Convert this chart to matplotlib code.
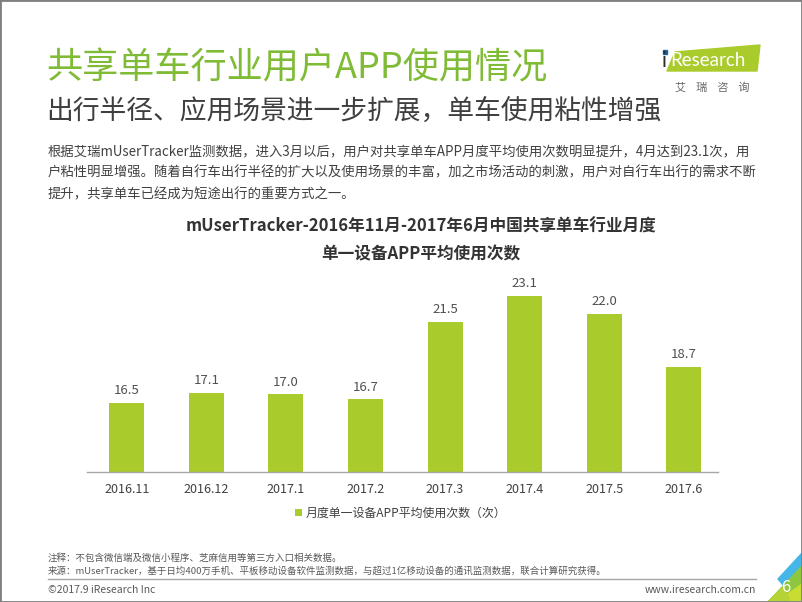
import matplotlib.pyplot as plt
from matplotlib.patches import Polygon, Rectangle

plt.rcParams['font.family'] = ['Noto Sans CJK SC', 'DejaVu Sans']

# =====================================================
# DATA
# =====================================================

months = ['2016.11', '2016.12', '2017.1', '2017.2',
          '2017.3', '2017.4', '2017.5', '2017.6']
usage = [16.5, 17.1, 17.0, 16.7, 21.5, 23.1, 22.0, 18.7]

series_name = '月度单一设备APP平均使用次数（次）'

title = '共享单车行业用户APP使用情况'
subtitle = '出行半径、应用场景进一步扩展，单车使用粘性增强'
body = [
    '根据艾瑞mUserTracker监测数据，进入3月以后，用户对共享单车APP月度平均使用次数明显提升，4月达到23.1次，用',
    '户粘性明显增强。随着自行车出行半径的扩大以及使用场景的丰富，加之市场活动的刺激，用户对自行车出行的需求不断',
    '提升，共享单车已经成为短途出行的重要方式之一。',
]
chart_title = ['mUserTracker-2016年11月-2017年6月中国共享单车行业月度',
               '单一设备APP平均使用次数']
notes = ['注释：不包含微信端及微信小程序、芝麻信用等第三方入口相关数据。',
         '来源：mUserTracker，基于日均400万手机、平板移动设备软件监测数据，与超过1亿移动设备的通讯监测数据，联合计算研究获得。']

BAR_GREEN = '#a9cb2c'
TITLE_GREEN = '#7fbb35'
W, H = 802, 602


def px(x, y):
    return x / W, 1 - y / H


def poly(points, color):
    fig.patches.append(Polygon([px(*p) for p in points], closed=True,
                               transform=fig.transFigure, color=color))


fig = plt.figure(figsize=(8.02, 6.02), dpi=100)

# =====================================================
# HEADER TEXT
# =====================================================

fig.text(*px(46, 68), title, fontsize=26, color=TITLE_GREEN, va='center')
fig.text(*px(46, 111), subtitle, fontsize=19.3, color='#3f3f3f', va='center')
for i, line in enumerate(body):
    fig.text(*px(48, 151 + i * 21.5), line, fontsize=9.6,
             color='#404040', va='center')

for i, line in enumerate(chart_title):
    fig.text(*px(421, 227 + i * 27), line, fontsize=12,
             color='#333333', fontweight='bold', ha='center', va='center')

# logo
poly([(675, 52), (760, 45), (757, 71), (667, 71)], BAR_GREEN)
fig.text(*px(662, 61), 'i', fontsize=15, color='#2d2d2d', va='center',
         family='Lato')
fig.text(*px(670, 61), 'Research', fontsize=13.5, color='white',
         va='center', family='Lato')
fig.patches.append(Rectangle(px(663, 54), 4 / W, 4 / H,
                             transform=fig.transFigure, color='#1f5fa8'))
fig.text(*px(712, 87), '艾    瑞    咨    询', fontsize=8,
         color='#666666', ha='center', va='center')

# =====================================================
# BAR CHART
# =====================================================

ax = fig.add_axes([87 / W, 1 - 472 / H, (718 - 87) / W, (472 - 270) / H])

x = range(len(months))
bars = ax.bar(x, usage, width=0.44, color=BAR_GREEN, zorder=2)

for b, v in zip(bars, usage):
    ax.text(b.get_x() + b.get_width() / 2, v + 0.35, f'{v:.1f}',
            ha='center', va='bottom', fontsize=9.5, color='#505050')

ax.set_ylim(12.2, 24.7)
ax.set_xlim(-0.5, 7.43)
ax.set_xticks(list(x))
ax.set_xticklabels(months, fontsize=9, color='#404040')
ax.tick_params(axis='x', length=0, pad=8)
ax.set_yticks([])
for side in ['top', 'right', 'left']:
    ax.spines[side].set_visible(False)
ax.spines['bottom'].set_color('#a6a6a6')
ax.spines['bottom'].set_linewidth(1)

leg = ax.legend([bars[0]], [series_name], loc='center',
                bbox_to_anchor=(0.497, -0.205), frameon=False,
                fontsize=8.6, handlelength=0.6, handleheight=0.6,
                handletextpad=0.3)
for t in leg.get_texts():
    t.set_color('#404040')

# =====================================================
# FOOTER
# =====================================================

for i, line in enumerate(notes):
    fig.text(*px(48, 558 + i * 13), line, fontsize=6.8,
             color='#595959', va='center')

fig.add_artist(plt.Line2D([48 / W, 756 / W], [1 - 579 / H, 1 - 579 / H],
                          transform=fig.transFigure, color='#a6a6a6',
                          linewidth=1))
fig.text(*px(48, 590), '©2017.9 iResearch Inc', fontsize=7.5,
         color='#595959', va='center')
fig.text(*px(756, 590), 'www.iresearch.com.cn', fontsize=7.5,
         color='#595959', va='center', ha='right')

# corner decoration
poly([(778, 579), (802, 553), (802, 566), (784, 586)], '#45b6e8')
poly([(768, 602), (802, 566), (802, 602)], '#8dc63f')
poly([(776, 602), (802, 584), (802, 602)], '#c8dc32')
poly([(768, 602), (784, 586), (790, 602)], '#b5d334')
fig.text(*px(786, 588), '6', fontsize=12, color='white',
         ha='center', va='center')

# frame
fig.patches.append(Rectangle((0, 0), 1, 1, transform=fig.transFigure,
                             fill=False, edgecolor='#7f7f7f', linewidth=2))

fig.savefig('out.png', dpi=100)
